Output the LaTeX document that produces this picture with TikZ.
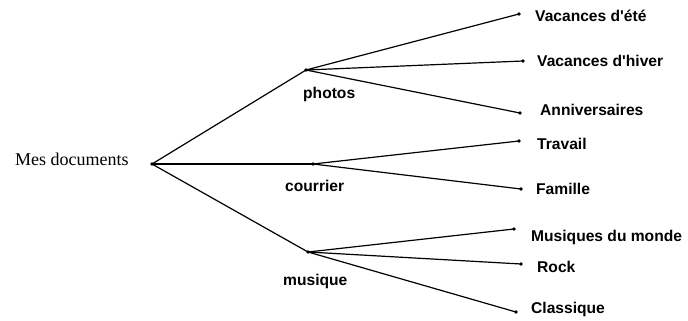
\documentclass[tikz,border=0pt]{standalone}
\usepackage{fontspec}
\setmainfont{Liberation Serif}
\newfontfamily\lblfont{Liberation Sans}
\begin{document}
\begin{tikzpicture}[x=1pt,y=-1pt,
  pt/.style={circle,fill=black,inner sep=0pt,minimum size=3.6pt},
  lbl/.style={anchor=base west,inner sep=0pt,font=\lblfont\fontsize{15.6}{18}\selectfont\bfseries},
  rootlbl/.style={anchor=base west,inner sep=0pt,font=\fontsize{18}{21}\selectfont},
  edge/.style={line width=1.2pt}]
\useasboundingbox (0,0) rectangle (688,321);
% dots
\node[pt] (root) at (152,164) {};
\node[pt] (photos) at (306,70) {};
\node[pt] (courrier) at (313,164) {};
\node[pt] (musique) at (308,252) {};
\node[pt] (ete) at (519,14) {};
\node[pt] (hiver) at (523,61) {};
\node[pt] (anniv) at (520,113) {};
\node[pt] (travail) at (519,141) {};
\node[pt] (famille) at (521,189) {};
\node[pt] (monde) at (514,229) {};
\node[pt] (rock) at (521,264) {};
\node[pt] (classique) at (516,312) {};
% labels
\node[rootlbl] (tRoot) at (15,165) {Mes documents};
\node[lbl] (tPhotos) at (303,99) {photos};
\node[lbl] (tCourrier) at (285,191) {courrier};
\node[lbl] (tMusique) at (283,285) {musique};
\node[lbl] (tEte) at (535,21.5) {Vacances d'été};
\node[lbl] (tHiver) at (537,66.5) {Vacances d'hiver};
\node[lbl] (tAnniv) at (540,115.5) {Anniversaires};
\node[lbl] (tTravail) at (537,149.5) {Travail};
\node[lbl] (tFamille) at (536,194.5) {Famille};
\node[lbl] (tMonde) at (531,241.5) {Musiques du monde};
\node[lbl] (tRock) at (537,272.5) {Rock};
\node[lbl] (tClassique) at (531,313.5) {Classique};
% edges
\draw[edge] (root.center) -- (photos.center);
\draw[edge] (root.center) -- (courrier.center);
\draw[edge] (root.center) -- (musique.center);
\draw[edge] (photos.center) -- (ete.center);
\draw[edge] (photos.center) -- (hiver.center);
\draw[edge] (photos.center) -- (anniv.center);
\draw[edge] (courrier.center) -- (travail.center);
\draw[edge] (courrier.center) -- (famille.center);
\draw[edge] (musique.center) -- (monde.center);
\draw[edge] (musique.center) -- (rock.center);
\draw[edge] (musique.center) -- (classique.center);
\end{tikzpicture}
\end{document}
